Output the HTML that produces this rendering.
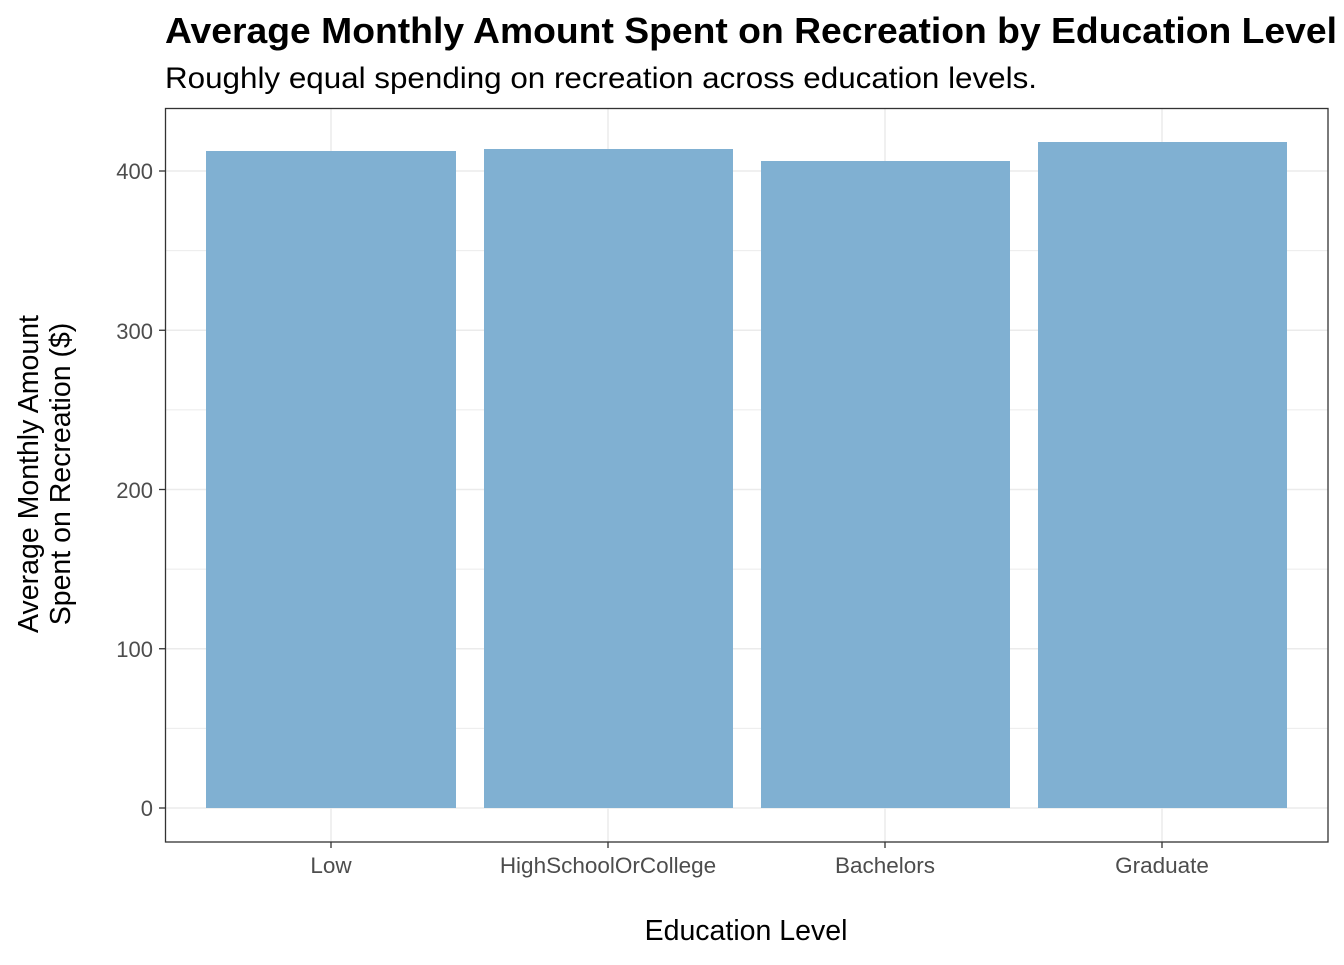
<!DOCTYPE html>
<html><head><meta charset="utf-8"><style>
html,body{margin:0;padding:0;background:#fff;}
</style></head><body>
<svg width="1344" height="960" xmlns="http://www.w3.org/2000/svg" font-family="Liberation Sans, Arial, sans-serif">
<rect width="1344" height="960" fill="#fff"/>
<text x="165" y="43" font-size="36" font-weight="bold" fill="#000" textLength="1172" lengthAdjust="spacingAndGlyphs">Average Monthly Amount Spent on Recreation by Education Level</text>
<text x="165" y="88" font-size="30" fill="#000" textLength="872" lengthAdjust="spacingAndGlyphs">Roughly equal spending on recreation across education levels.</text>
<g stroke="#ebebeb" stroke-width="1">
<line x1="165" x2="1328" y1="728.4" y2="728.4"/>
<line x1="165" x2="1328" y1="569.1" y2="569.1"/>
<line x1="165" x2="1328" y1="409.9" y2="409.9"/>
<line x1="165" x2="1328" y1="250.6" y2="250.6"/>
</g>
<g stroke="#ebebeb" stroke-width="1.5">
<line x1="165" x2="1328" y1="808" y2="808"/>
<line x1="165" x2="1328" y1="648.75" y2="648.75"/>
<line x1="165" x2="1328" y1="489.5" y2="489.5"/>
<line x1="165" x2="1328" y1="330.25" y2="330.25"/>
<line x1="165" x2="1328" y1="171" y2="171"/>
<line x1="331" x2="331" y1="108" y2="842"/>
<line x1="608" x2="608" y1="108" y2="842"/>
<line x1="885" x2="885" y1="108" y2="842"/>
<line x1="1162" x2="1162" y1="108" y2="842"/>
</g>
<g fill="#80b0d2">
<rect x="206" y="151" width="250" height="657"/>
<rect x="484" y="149" width="249" height="659"/>
<rect x="761" y="161" width="249" height="647"/>
<rect x="1038" y="142" width="249" height="666"/>
</g>
<rect x="165.5" y="108.5" width="1162.5" height="733.5" fill="none" stroke="#333" stroke-width="1.3"/>
<g stroke="#333" stroke-width="1.3">
<line x1="159" x2="165" y1="808" y2="808"/>
<line x1="159" x2="165" y1="648.75" y2="648.75"/>
<line x1="159" x2="165" y1="489.5" y2="489.5"/>
<line x1="159" x2="165" y1="330.25" y2="330.25"/>
<line x1="159" x2="165" y1="171" y2="171"/>
<line x1="331" x2="331" y1="842" y2="848"/>
<line x1="608" x2="608" y1="842" y2="848"/>
<line x1="885" x2="885" y1="842" y2="848"/>
<line x1="1162" x2="1162" y1="842" y2="848"/>
</g>
<g font-size="22" fill="#4d4d4d" text-anchor="end">
<text x="153" y="816">0</text>
<text x="153" y="657">100</text>
<text x="153" y="498">200</text>
<text x="153" y="339">300</text>
<text x="153" y="179">400</text>
</g>
<g font-size="22.5" fill="#4d4d4d" text-anchor="middle">
<text x="331" y="873">Low</text>
<text x="608" y="873">HighSchoolOrCollege</text>
<text x="885" y="873">Bachelors</text>
<text x="1162" y="873">Graduate</text>
</g>
<text x="746" y="940" font-size="28.5" text-anchor="middle" fill="#000">Education Level</text>
<g font-size="28.5" fill="#000" text-anchor="middle">
<text transform="translate(38,474) rotate(-90)">Average Monthly Amount</text>
<text transform="translate(70,474) rotate(-90)">Spent on Recreation ($)</text>
</g>
</svg>
</body></html>
